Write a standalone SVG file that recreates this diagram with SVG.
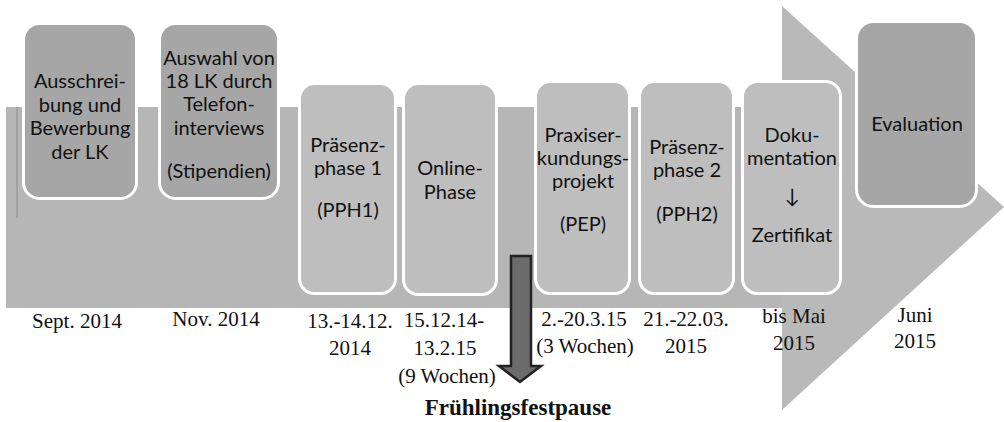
<svg xmlns="http://www.w3.org/2000/svg" width="1004" height="422" viewBox="0 0 1004 422">
<style>
.dark{fill:#a6a6a6;stroke:#ffffff;stroke-width:3}
.light{fill:#bebebe;stroke:#ffffff;stroke-width:3}
.t{font-family:Lato,"Open Sans","DejaVu Sans",sans-serif;font-size:20px;fill:#111;text-anchor:middle}
.d{font-family:"Liberation Serif","Times New Roman",serif;font-size:21px;fill:#111;text-anchor:middle}
.b{font-family:"Liberation Serif","Times New Roman",serif;font-size:23px;font-weight:bold;fill:#111;text-anchor:middle}
</style>
<rect width="1004" height="422" fill="#ffffff"/>
<g id="background-arrow">
<rect x="6" y="107" width="780" height="201" fill="#b6b6b6"/>
<polygon points="782,6 1004,207 782,410" fill="#b9b9b9"/>
<line x1="17" y1="107" x2="17" y2="218" stroke="#8a8a8a" stroke-width="1"/>
</g>
<g id="n1"><rect class="dark" x="23.5" y="23.5" width="113" height="175" rx="16"/>
<text class="t" x="80" y="88">Ausschrei-</text><text class="t" x="80" y="111.5">bung und</text><text class="t" x="80" y="135">Bewerbung</text><text class="t" x="80" y="158.5">der LK</text></g>
<g id="n2"><rect class="dark" x="159.5" y="23.5" width="119" height="175" rx="16"/>
<text class="t" x="219" y="65">Auswahl von</text><text class="t" x="219" y="88">18 LK durch</text><text class="t" x="219" y="111">Telefon-</text><text class="t" x="219" y="135">interviews</text><text class="t" x="219" y="178">(Stipendien)</text></g>
<g id="n3"><rect class="light" x="299.5" y="83.5" width="96" height="210" rx="15"/>
<text class="t" x="348" y="152">Präsenz-</text><text class="t" x="348" y="175">phase 1</text><text class="t" x="348" y="217">(PPH1)</text></g>
<g id="n4"><rect class="light" x="403.5" y="83.5" width="93" height="211" rx="15"/>
<text class="t" x="450" y="175">Online-</text><text class="t" x="450" y="198.5">Phase</text></g>
<g id="n5"><rect class="light" x="535.5" y="81.5" width="94" height="212" rx="15"/>
<text class="t" x="583" y="142">Praxiser-</text><text class="t" x="583" y="165">kundungs-</text><text class="t" x="583" y="188">projekt</text><text class="t" x="583" y="231">(PEP)</text></g>
<g id="n6"><rect class="light" x="639.5" y="81.5" width="94" height="212" rx="15"/>
<text class="t" x="687" y="154">Präsenz-</text><text class="t" x="687" y="177">phase 2</text><text class="t" x="687" y="221">(PPH2)</text></g>
<g id="n7"><rect class="light" x="742.5" y="81.5" width="98" height="212" rx="15"/>
<text class="t" x="792" y="142">Doku-</text><text class="t" x="792" y="165">mentation</text><text class="t" x="792" y="203">↓</text><text class="t" x="792" y="242">Zertifikat</text></g>
<g id="n8"><rect class="dark" x="856.5" y="21.5" width="120" height="185" rx="17"/>
<text class="t" x="917" y="131">Evaluation</text></g>
<g id="labels">
<text class="d" x="77" y="328">Sept. 2014</text>
<text class="d" x="216" y="326">Nov. 2014</text>
<text class="d" x="350" y="328">13.-14.12.</text><text class="d" x="350" y="355">2014</text>
<text class="d" x="444" y="327">15.12.14-</text><text class="d" x="445" y="355">13.2.15</text><text class="d" x="447" y="383">(9 Wochen)</text>
<text class="d" x="584" y="326">2.-20.3.15</text><text class="d" x="585" y="353">(3 Wochen)</text>
<text class="d" x="686" y="326">21.-22.03.</text><text class="d" x="686" y="353">2015</text>
<text class="d" x="794" y="323">bis Mai</text><text class="d" x="794" y="350">2015</text>
<text class="d" x="915" y="322">Juni</text><text class="d" x="915" y="348">2015</text>
<text class="b" x="518" y="415">Frühlingsfestpause</text>
</g>
<g id="connectors">
<polygon points="511,256 531,256 531,366 541,366 520,382 499,366 511,366" fill="#6b6b6b" stroke="#222" stroke-width="2.5" stroke-linejoin="miter"/>
</g>
</svg>
